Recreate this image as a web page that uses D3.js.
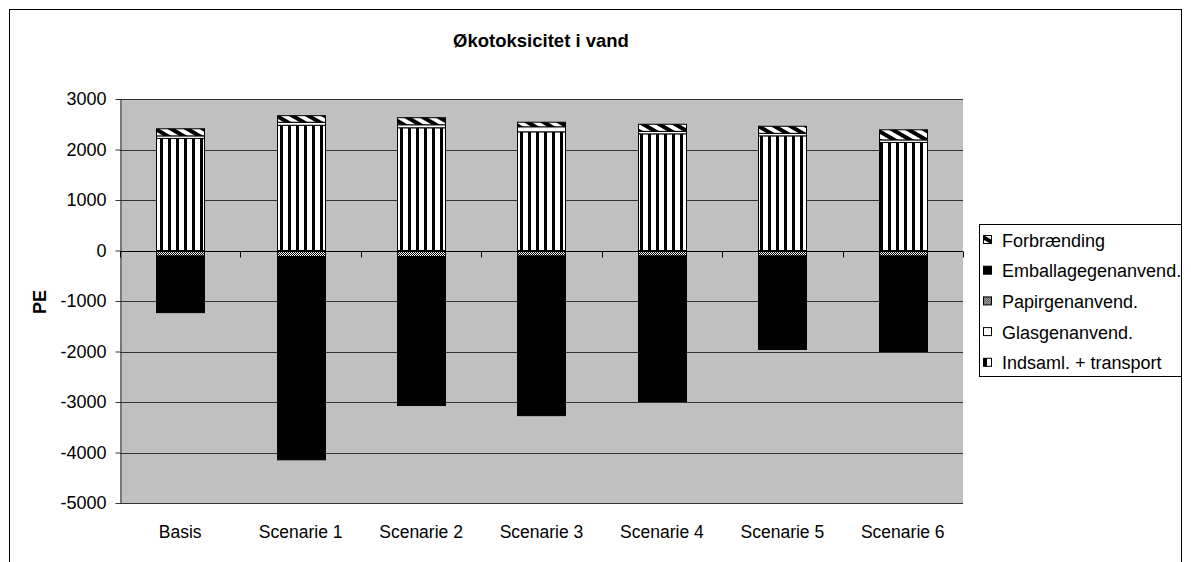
<!DOCTYPE html>
<html>
<head>
<meta charset="utf-8">
<script src="https://cdn.jsdelivr.net/npm/d3@7"></script>
<style>
  body { margin: 0; background: #fff; }
  text { font-family: "Liberation Sans", Arial, sans-serif; }
</style>
</head>
<body>
<div id="chart"></div>
<script>
// chart data
const categories = ["Basis", "Scenarie 1", "Scenarie 2", "Scenarie 3", "Scenarie 4", "Scenarie 5", "Scenarie 6"];
const indsaml = [2220, 2480, 2430, 2350, 2310, 2270, 2140];
const glas = [50, 60, 60, 100, 50, 50, 50];
const papir = [-110, -120, -120, -110, -110, -110, -110];
const emballage = [-1120, -4025, -2950, -3160, -2880, -1850, -1890];
const forbraending = [140, 130, 140, 90, 140, 140, 200];
const seriesNames = ["Indsaml. + transport", "Glasgenanvend.", "Papirgenanvend.", "Emballagegenanvend.", "Forbrænding"];
const yTicks = [3000, 2000, 1000, 0, -1000, -2000, -3000, -4000, -5000];

function buildRows() {
  return categories.map((c, i) => ({
    cat: c,
    "Indsaml. + transport": indsaml[i],
    "Glasgenanvend.": glas[i],
    "Papirgenanvend.": papir[i],
    "Emballagegenanvend.": emballage[i],
    "Forbrænding": forbraending[i]
  }))
}

function addPatterns(defs) {
  // vertical stripes
  let p = defs.append("pattern").attr("id", "pat-stripes")
    .attr("patternUnits", "userSpaceOnUse").attr("width", 8).attr("height", 8)
  p.append("rect").attr("width", 8).attr("height", 8).attr("fill", "#fff")
  p.append("rect").attr("x", 0).attr("width", 3).attr("height", 8).attr("fill", "#000")

  // fine checker
  p = defs.append("pattern").attr("id", "pat-checker")
    .attr("patternUnits", "userSpaceOnUse").attr("width", 2).attr("height", 2)
  p.append("rect").attr("width", 2).attr("height", 2).attr("fill", "#fff")
  p.append("rect").attr("width", 1).attr("height", 1).attr("fill", "#000")
  p.append("rect").attr("x", 1).attr("y", 1).attr("width", 1).attr("height", 1).attr("fill", "#000")

  // wide diagonal stripes, running down to the right
  p = defs.append("pattern").attr("id", "pat-diag")
    .attr("patternUnits", "userSpaceOnUse").attr("width", 8).attr("height", 8)
    .attr("patternTransform", "rotate(30)")
  p.append("rect").attr("width", 8).attr("height", 8).attr("fill", "#fff")
  p.append("rect").attr("width", 8).attr("height", 4).attr("fill", "#000")
}

const fills = {
  "Indsaml. + transport": "url(#pat-stripes)",
  "Glasgenanvend.": "#fff",
  "Papirgenanvend.": "url(#pat-checker)",
  "Emballagegenanvend.": "#000",
  "Forbrænding": "url(#pat-diag)"
}

function createChart() {
  const width = 1191, height = 562
  const plot = { left: 120, right: 963, top: 99, bottom: 503 }

  const svg = d3.select("#chart").append("svg")
    .attr("width", width).attr("height", height)
  addPatterns(svg.append("defs"))

  // outer frame
  svg.append("rect")
    .attr("x", 9.5).attr("y", 9.5).attr("width", 1172).attr("height", 600)
    .attr("fill", "none").attr("stroke", "#000")

  const x = d3.scaleBand().domain(categories)
    .range([plot.left, plot.right]).paddingInner(0.6).paddingOuter(0.3)
  const y = d3.scaleLinear().domain([-5000, 3000]).range([plot.bottom, plot.top])

  // plot area
  svg.append("rect")
    .attr("x", plot.left).attr("y", plot.top)
    .attr("width", plot.right - plot.left).attr("height", plot.bottom - plot.top)
    .attr("fill", "#c0c0c0")

  // gridlines
  svg.append("g").selectAll("line")
    .data(yTicks)
    .enter().append("line")
    .attr("x1", plot.left).attr("x2", plot.right)
    .attr("y1", d => Math.round(y(d)) + 0.5).attr("y2", d => Math.round(y(d)) + 0.5)
    .attr("stroke", "#333").attr("stroke-width", 1)

  // y axis
  const yAxis = svg.append("g")
    .attr("transform", `translate(${plot.left + 0.5},0)`)
    .call(d3.axisLeft(y).tickValues(yTicks).tickFormat(d => String(d))
      .tickSize(5).tickSizeOuter(0).tickPadding(9))
  yAxis.select(".domain").attr("stroke", "#333")
  yAxis.selectAll(".tick line").attr("stroke", "#333")
  yAxis.selectAll("text").attr("font-size", 18).attr("fill", "#000")
    .attr("font-family", "Liberation Sans, Arial, sans-serif")

  // stacked bars
  const stack = d3.stack().keys(seriesNames).offset(d3.stackOffsetDiverging)
  const layers = stack(buildRows())

  svg.append("g").selectAll("g")
    .data(layers)
    .enter().append("g")
    .attr("fill", d => fills[d.key])
    .selectAll("rect")
    .data(d => d)
    .enter().append("rect")
    .attr("x", d => Math.round(x(d.data.cat)) + 0.5)
    .attr("width", Math.round(x.bandwidth()))
    .attr("y", d => y(Math.max(d[0], d[1])))
    .attr("height", d => Math.abs(y(d[0]) - y(d[1])))
    .attr("stroke", "#000").attr("stroke-width", 1)

  // x axis at zero with ticks between categories
  const zeroY = Math.round(y(0)) + 0.5
  svg.append("line")
    .attr("x1", plot.left).attr("x2", plot.right)
    .attr("y1", zeroY).attr("y2", zeroY)
    .attr("stroke", "#000")
  const step = x.step()
  const tickXs = d3.range(categories.length + 1).map(i => plot.left + i * step)
  svg.append("g").selectAll("line")
    .data(tickXs)
    .enter().append("line")
    .attr("x1", d => Math.round(d) + 0.5).attr("x2", d => Math.round(d) + 0.5)
    .attr("y1", zeroY).attr("y2", zeroY + 6)
    .attr("stroke", "#000")

  // category labels below plot
  svg.append("g").selectAll("text")
    .data(categories)
    .enter().append("text")
    .text(d => d)
    .attr("x", d => x(d) + x.bandwidth() / 2)
    .attr("y", 538)
    .attr("text-anchor", "middle")
    .attr("font-size", 17.5)

  // title
  svg.append("text")
    .text("Økotoksicitet i vand")
    .attr("x", 541).attr("y", 47)
    .attr("text-anchor", "middle")
    .attr("font-size", 18.5).attr("font-weight", "bold")

  // y label
  svg.append("text")
    .text("PE")
    .attr("transform", "translate(46,302) rotate(-90)")
    .attr("text-anchor", "middle")
    .attr("font-size", 18).attr("font-weight", "bold")

  // legend
  const lg = svg.append("g")
  lg.append("rect")
    .attr("x", 979.5).attr("y", 224.5).attr("width", 202).attr("height", 152)
    .attr("fill", "#fff").attr("stroke", "#000")
  const legendItems = seriesNames.slice().reverse()
  const item = lg.selectAll("g.item")
    .data(legendItems)
    .enter().append("g")
    .attr("class", "item")
    .attr("transform", (d, i) => `translate(0,${240 + i * 30.7})`)
  item.append("rect")
    .attr("x", 983.5).attr("y", -4.5).attr("width", 8).attr("height", 8)
    .attr("fill", d => fills[d]).attr("stroke", "#000")
  item.append("text")
    .text(d => d)
    .attr("x", 1002).attr("y", 6.5)
    .attr("font-size", 18)
}

createChart()
</script>
</body>
</html>
